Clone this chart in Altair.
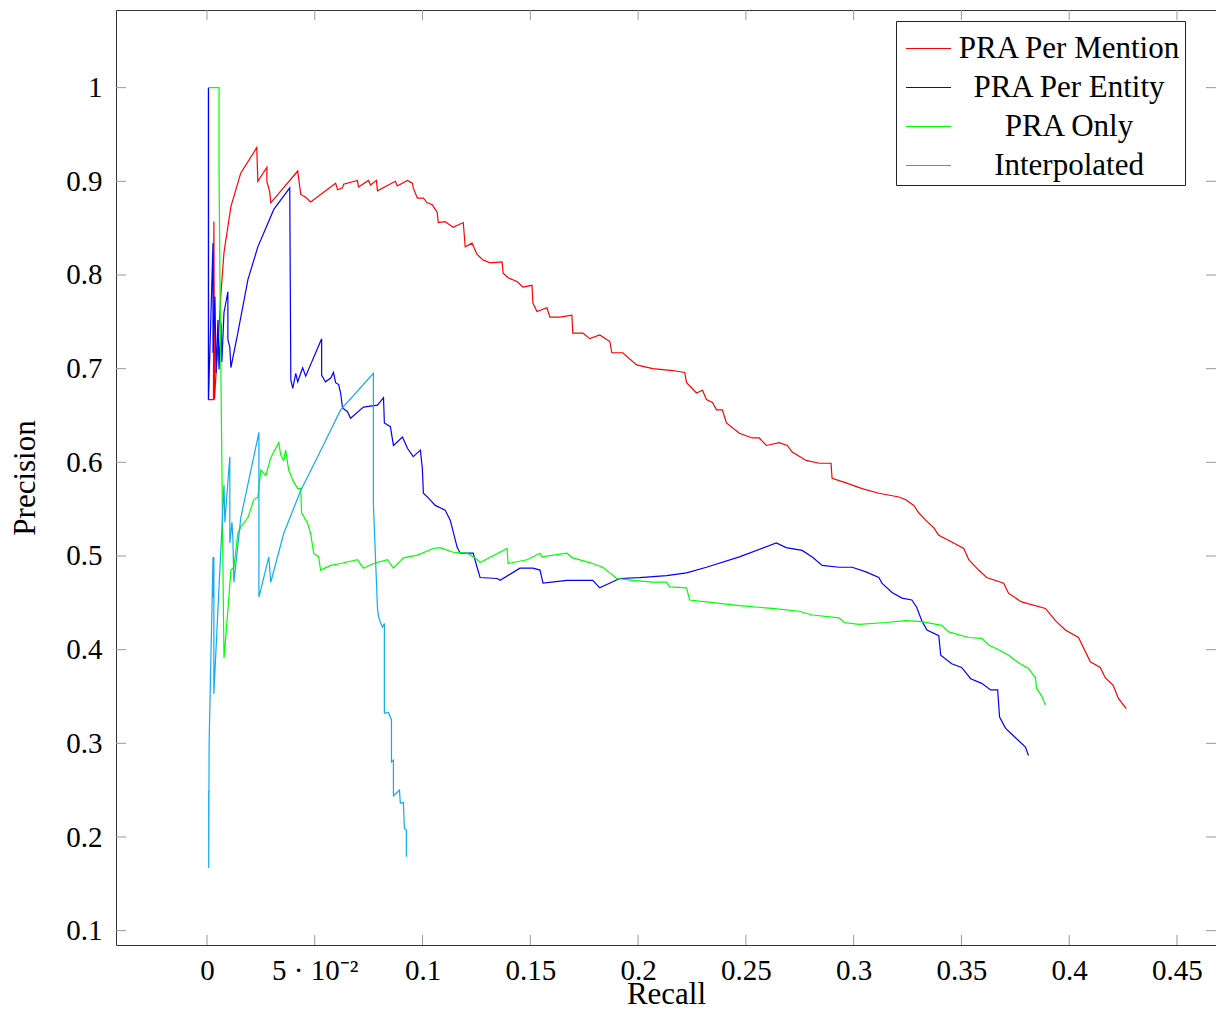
import altair as alt
import pandas as pd

series_names = ["PRA Per Mention", "PRA Per Entity", "PRA Only", "Interpolated"]
series_colors = ["#ff0000", "#0000ff", "#00ff00", "#12aaf0"]

red_recall = [0.0007, 0.0007, 0.0030, 0.0032, 0.0035, 0.0042, 0.0051, 0.0065, 0.0079, 0.0111, 0.0157, 0.0231,
              0.0236, 0.0278, 0.0278, 0.0291, 0.0296, 0.0421, 0.0435, 0.0458, 0.0481, 0.0597, 0.0606, 0.0629,
              0.0634, 0.0698, 0.0703, 0.0749, 0.0759, 0.0786, 0.0791, 0.0874, 0.0883, 0.0930, 0.0953, 0.0957,
              0.0976, 0.1004, 0.1022, 0.1045, 0.1059, 0.1068, 0.1073, 0.1105, 0.1142, 0.1189, 0.1198, 0.1230,
              0.1253, 0.1281, 0.1314, 0.1369, 0.1374, 0.1397, 0.1438, 0.1466, 0.1508, 0.1512, 0.1531, 0.1577,
              0.1591, 0.1637, 0.1693, 0.1697, 0.1744, 0.1776, 0.1822, 0.1869, 0.1878, 0.1929, 0.1993, 0.2068,
              0.2160, 0.2216, 0.2225, 0.2271, 0.2299, 0.2317, 0.2345, 0.2364, 0.2391, 0.2410, 0.2470, 0.2530,
              0.2562, 0.2595, 0.2655, 0.2692, 0.2715, 0.2780, 0.2840, 0.2895, 0.2900, 0.2965, 0.3039, 0.3117,
              0.3210, 0.3242, 0.3279, 0.3302, 0.3335, 0.3372, 0.3395, 0.3455, 0.3511, 0.3534, 0.3580, 0.3617,
              0.3696, 0.3719, 0.3779, 0.3890, 0.3936, 0.3982, 0.4043, 0.4098, 0.4144, 0.4167, 0.4204, 0.4228,
              0.4265]
red_precision = [1.000, 0.667, 0.667, 0.857, 0.667, 0.695, 0.723, 0.781, 0.824, 0.873, 0.909, 0.936,
                 0.900, 0.915, 0.900, 0.889, 0.877, 0.911, 0.886, 0.883, 0.878, 0.898, 0.891, 0.893,
                 0.897, 0.901, 0.894, 0.901, 0.896, 0.901, 0.890, 0.900, 0.895, 0.901, 0.898, 0.893,
                 0.882, 0.882, 0.877, 0.875, 0.870, 0.867, 0.856, 0.857, 0.851, 0.856, 0.830, 0.834,
                 0.822, 0.816, 0.813, 0.814, 0.802, 0.797, 0.793, 0.787, 0.789, 0.770, 0.761, 0.765,
                 0.755, 0.755, 0.757, 0.738, 0.738, 0.732, 0.736, 0.729, 0.717, 0.717, 0.704, 0.700,
                 0.698, 0.696, 0.685, 0.674, 0.677, 0.667, 0.664, 0.656, 0.656, 0.642, 0.631, 0.626,
                 0.626, 0.618, 0.621, 0.618, 0.611, 0.602, 0.599, 0.599, 0.583, 0.578, 0.572, 0.567,
                 0.563, 0.560, 0.554, 0.546, 0.538, 0.530, 0.522, 0.515, 0.508, 0.496, 0.485, 0.477,
                 0.471, 0.460, 0.451, 0.444, 0.431, 0.421, 0.413, 0.387, 0.381, 0.370, 0.362, 0.348,
                 0.337]

blue_recall = [0.0007, 0.0007, 0.0028, 0.0028, 0.0037, 0.0042, 0.0051, 0.0056, 0.0065, 0.0069, 0.0079, 0.0097,
               0.0097, 0.0106, 0.0111, 0.0143, 0.0190, 0.0236, 0.0310, 0.0384, 0.0389, 0.0398, 0.0412, 0.0421,
               0.0444, 0.0458, 0.0532, 0.0532, 0.0550, 0.0574, 0.0587, 0.0597, 0.0611, 0.0620, 0.0629, 0.0652,
               0.0666, 0.0726, 0.0791, 0.0819, 0.0823, 0.0851, 0.0865, 0.0907, 0.0930, 0.0957, 0.0990, 0.0999,
               0.1004, 0.1027, 0.1059, 0.1105, 0.1129, 0.1161, 0.1175, 0.1235, 0.1253, 0.1267, 0.1346, 0.1360,
               0.1452, 0.1512, 0.1545, 0.1559, 0.1670, 0.1790, 0.1822, 0.1915, 0.2007, 0.2132, 0.2225, 0.2317,
               0.2470, 0.2641, 0.2687, 0.2761, 0.2808, 0.2854, 0.2932, 0.2993, 0.3057, 0.3117, 0.3131, 0.3178,
               0.3224, 0.3270, 0.3293, 0.3316, 0.3340, 0.3395, 0.3404, 0.3455, 0.3501, 0.3543, 0.3594, 0.3636,
               0.3668, 0.3677, 0.3705, 0.3751, 0.3797, 0.3811]
blue_precision = [1.000, 0.667, 0.834, 0.717, 0.777, 0.695, 0.752, 0.699, 0.749, 0.707, 0.760, 0.782,
                  0.731, 0.723, 0.701, 0.738, 0.795, 0.830, 0.870, 0.893, 0.688, 0.679, 0.695, 0.686,
                  0.701, 0.692, 0.732, 0.693, 0.686, 0.690, 0.696, 0.685, 0.683, 0.674, 0.658, 0.654,
                  0.647, 0.659, 0.661, 0.669, 0.642, 0.638, 0.618, 0.627, 0.615, 0.606, 0.613, 0.594,
                  0.567, 0.562, 0.554, 0.549, 0.538, 0.509, 0.503, 0.503, 0.488, 0.477, 0.476, 0.474,
                  0.487, 0.487, 0.485, 0.471, 0.474, 0.474, 0.466, 0.476, 0.477, 0.479, 0.482, 0.488,
                  0.499, 0.514, 0.509, 0.506, 0.499, 0.490, 0.488, 0.488, 0.483, 0.477, 0.471, 0.461,
                  0.455, 0.453, 0.445, 0.431, 0.421, 0.415, 0.394, 0.385, 0.381, 0.369, 0.364, 0.357,
                  0.357, 0.328, 0.316, 0.306, 0.296, 0.287]

green_recall = [0.0007, 0.0056, 0.0056, 0.0060, 0.0069, 0.0074, 0.0079, 0.0097, 0.0111, 0.0125, 0.0143, 0.0157,
                0.0190, 0.0217, 0.0236, 0.0250, 0.0273, 0.0296, 0.0319, 0.0333, 0.0342, 0.0356, 0.0365, 0.0379,
                0.0398, 0.0421, 0.0435, 0.0439, 0.0467, 0.0481, 0.0495, 0.0518, 0.0527, 0.0574, 0.0620, 0.0698,
                0.0726, 0.0772, 0.0837, 0.0865, 0.0911, 0.0976, 0.1050, 0.1082, 0.1142, 0.1207, 0.1244, 0.1267,
                0.1392, 0.1397, 0.1485, 0.1545, 0.1554, 0.1670, 0.1697, 0.1776, 0.1836, 0.1869, 0.1901, 0.1975,
                0.2068, 0.2132, 0.2146, 0.2225, 0.2239, 0.2317, 0.2470, 0.2623, 0.2747, 0.2808, 0.2932, 0.2956,
                0.3025, 0.3150, 0.3242, 0.3316, 0.3409, 0.3441, 0.3534, 0.3594, 0.3626, 0.3673, 0.3719, 0.3765,
                0.3811, 0.3844, 0.3848, 0.3871, 0.3890]
green_precision = [1.000, 1.000, 0.912, 0.800, 0.600, 0.490, 0.391, 0.442, 0.485, 0.488, 0.524, 0.531,
                   0.541, 0.560, 0.563, 0.592, 0.586, 0.605, 0.615, 0.621, 0.608, 0.602, 0.613, 0.592,
                   0.581, 0.572, 0.572, 0.546, 0.535, 0.524, 0.503, 0.499, 0.485, 0.490, 0.492, 0.496,
                   0.487, 0.492, 0.496, 0.487, 0.498, 0.501, 0.508, 0.509, 0.504, 0.503, 0.498, 0.493,
                   0.508, 0.492, 0.496, 0.503, 0.499, 0.503, 0.498, 0.493, 0.488, 0.482, 0.476, 0.474,
                   0.472, 0.472, 0.467, 0.466, 0.453, 0.451, 0.447, 0.444, 0.441, 0.437, 0.434, 0.429,
                   0.427, 0.429, 0.431, 0.430, 0.426, 0.419, 0.413, 0.412, 0.405, 0.400, 0.394, 0.386,
                   0.380, 0.370, 0.359, 0.351, 0.341]

cyan_recall = [0.0008, 0.0008, 0.0010, 0.0028, 0.0028, 0.0032, 0.0032, 0.0056, 0.0079, 0.0083, 0.0106, 0.0106,
               0.0116, 0.0120, 0.0125, 0.0157, 0.0194, 0.0241, 0.0241, 0.0287, 0.0296, 0.0356, 0.0435, 0.0518,
               0.0620, 0.0772, 0.0772, 0.0791, 0.0796, 0.0805, 0.0814, 0.0823, 0.0823, 0.0842, 0.0856, 0.0856,
               0.0865, 0.0865, 0.0893, 0.0897, 0.0911, 0.0916, 0.0925, 0.0925]
cyan_precision = [0.250, 0.167, 0.300, 0.499, 0.456, 0.499, 0.353, 0.467, 0.576, 0.536, 0.606, 0.514,
                  0.536, 0.520, 0.472, 0.541, 0.581, 0.632, 0.456, 0.499, 0.472, 0.524, 0.570, 0.608,
                  0.656, 0.695, 0.556, 0.444, 0.435, 0.429, 0.424, 0.428, 0.332, 0.333, 0.325, 0.280,
                  0.282, 0.244, 0.250, 0.236, 0.237, 0.209, 0.208, 0.179]

x_ticks = [0, 0.05, 0.1, 0.15, 0.2, 0.25, 0.3, 0.35, 0.4, 0.45]
y_ticks = [0.1, 0.2, 0.3, 0.4, 0.5, 0.6, 0.7, 0.8, 0.9, 1.0]

rows = []
for name, rx, py in zip(series_names,
                        [red_recall, blue_recall, green_recall, cyan_recall],
                        [red_precision, blue_precision, green_precision, cyan_precision]):
    for i, (a, b) in enumerate(zip(rx, py)):
        rows.append({"series": name, "recall": a, "precision": b, "idx": i})
df = pd.DataFrame(rows)

W, H = 1100, 935
x_scale = alt.Scale(domain=[-0.0422, 0.4681], nice=False, zero=False)
y_scale = alt.Scale(domain=[0.0847, 1.0829], nice=False, zero=False)
font = "Liberation Serif"

x_axis = alt.Axis(values=x_ticks, format="~g",
                  labelExpr="abs(datum.value-0.05)<1e-9 ? '5 · 10⁻²' : datum.label",
                  labelPadding=11, titlePadding=25, titleBaseline="bottom")
y_axis = alt.Axis(values=y_ticks, format="~g", labelPadding=14, titlePadding=24)

lines = alt.Chart(df).mark_line(strokeWidth=1.2).encode(
    x=alt.X("recall:Q", scale=x_scale, title="Recall", axis=x_axis),
    y=alt.Y("precision:Q", scale=y_scale, title="Precision", axis=y_axis),
    color=alt.Color("series:N",
                    scale=alt.Scale(domain=series_names, range=series_colors),
                    legend=alt.Legend(title=None, orient="none", legendX=780, legendY=11,
                                      symbolType="stroke", symbolSize=2025, symbolStrokeWidth=1.2,
                                      symbolOffset=5,
                                      labelFont=font, labelFontSize=31, labelLimit=0,
                                      labelAlign="center", labelOffset=117,
                                      rowPadding=0, padding=4,
                                      fillColor="white", strokeColor="#222")),
    detail="series:N",
    order=alt.Order("idx:Q"),
)

xt = pd.DataFrame({"t": x_ticks})
yt = pd.DataFrame({"t": y_ticks})
tick_color = "#999999"
tl = 10
bottom_ticks = alt.Chart(xt).mark_rule(color=tick_color, strokeWidth=1).encode(
    x=alt.X("t:Q", scale=x_scale, title="Recall", axis=x_axis), y=alt.value(H), y2=alt.value(H - tl))
top_ticks = alt.Chart(xt).mark_rule(color=tick_color, strokeWidth=1).encode(
    x=alt.X("t:Q", scale=x_scale, title="Recall", axis=x_axis), y=alt.value(0), y2=alt.value(tl))
left_ticks = alt.Chart(yt).mark_rule(color=tick_color, strokeWidth=1).encode(
    y=alt.Y("t:Q", scale=y_scale, title="Precision", axis=y_axis), x=alt.value(0), x2=alt.value(tl))
right_ticks = alt.Chart(yt).mark_rule(color=tick_color, strokeWidth=1).encode(
    y=alt.Y("t:Q", scale=y_scale, title="Precision", axis=y_axis), x=alt.value(W), x2=alt.value(W - tl))

chart = alt.layer(bottom_ticks, top_ticks, left_ticks, right_ticks, lines).properties(
    width=W, height=H,
    autosize=alt.AutoSizeParams(type="none"),
    padding={"left": 108, "top": 2, "right": 0, "bottom": 66},
).configure_view(
    stroke="#333333", strokeWidth=1
).configure_axis(
    labelFont=font, labelFontSize=29, labelColor="black",
    titleFont=font, titleFontSize=31, titleFontWeight="normal", titleColor="black",
    ticks=False, domain=False, grid=False,
)

chart.save("out.html", embed_options={"renderer": "svg", "actions": False})
